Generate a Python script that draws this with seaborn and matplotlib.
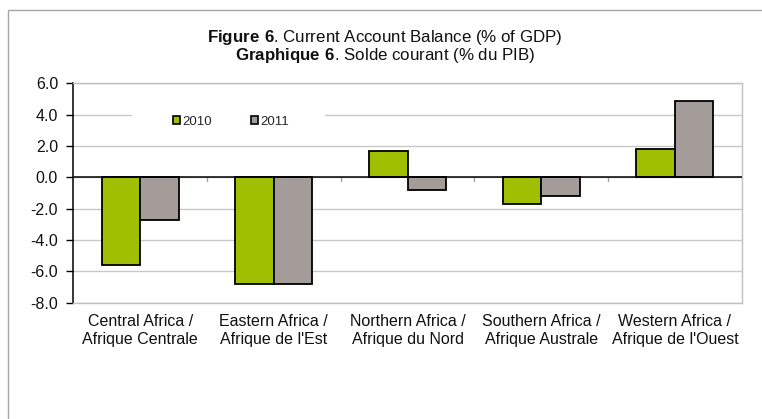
import matplotlib.pyplot as plt
import matplotlib.patches as mpatches
import pandas as pd
import seaborn as sns

regions = [
    "Central Africa /\nAfrique Centrale",
    "Eastern Africa /\nAfrique de l'Est",
    "Northern Africa /\nAfrique du Nord",
    "Southern Africa /\nAfrique Australe",
    "Western Africa /\nAfrique de l'Ouest",
]
values_2010 = [-5.6, -6.8, 1.7, -1.7, 1.8]
values_2011 = [-2.7, -6.8, -0.8, -1.2, 4.9]
years = ["2010", "2011"]
colors = ["#9fbf00", "#a49c98"]
y_ticks = [-8.0, -6.0, -4.0, -2.0, 0.0, 2.0, 4.0, 6.0]

df = pd.DataFrame(
    {
        "region": regions * 2,
        "year": [years[0]] * len(regions) + [years[1]] * len(regions),
        "value": values_2010 + values_2011,
    }
)

sns.set_style("white")
plt.rcParams["font.family"] = ["Liberation Sans", "DejaVu Sans"]
plt.rcParams["mathtext.fontset"] = "custom"
plt.rcParams["mathtext.rm"] = "Liberation Sans"
plt.rcParams["mathtext.bf"] = "Liberation Sans:bold"

fig = plt.figure(figsize=(7.62, 4.19), dpi=100)
fig.patch.set_facecolor("white")
ax = fig.add_axes([0.0962, 0.2776, 0.8772, 0.5236])

# outer chart frame (only left and top edges visible in the crop)
fig.patches.append(
    mpatches.Rectangle(
        (7.5 / 762, -0.2), 1.2, 0.2 + 1 - 9.5 / 419,
        transform=fig.transFigure, fill=False, edgecolor="#a6a6a6", lw=1, clip_on=False,
    )
)

sns.barplot(
    data=df, x="region", y="value", hue="year",
    palette=colors, edgecolor="black", linewidth=1.3,
    width=0.575, gap=0, saturation=1, ax=ax, zorder=3,
)

ax.set_ylim(-8, 6)
ax.set_xlim(-0.5, len(regions) - 0.5)
ax.set_yticks(y_ticks)
ax.set_yticklabels([f"{t:.1f}" for t in y_ticks])
ax.yaxis.grid(True, color="#c8c8c8", lw=1, zorder=0)
ax.set_axisbelow(True)
ax.axhline(0, color="black", lw=1.1, zorder=4)

# small category boundary ticks under the zero line
for b in range(1, len(regions)):
    ax.plot([b - 0.5, b - 0.5], [0, -0.22], color="#a0a0a0", lw=1, zorder=2)

for side in ["top", "right", "bottom"]:
    ax.spines[side].set_color("#c0c0c0")
    ax.spines[side].set_linewidth(1)
ax.spines["left"].set_color("black")
ax.spines["left"].set_linewidth(1.1)

ax.tick_params(axis="y", direction="out", length=5, width=1, color="black",
               labelsize=11.5, pad=6, left=True, labelcolor="#111111")
ax.tick_params(axis="x", length=0, labelsize=11.5, pad=8, labelcolor="#111111")
for lbl in ax.get_xticklabels():
    lbl.set_linespacing(1.3)
ax.set_xlabel("")
ax.set_ylabel("")

# white box behind the legend hides the gridline, as in the original
ax.add_patch(mpatches.Rectangle((0.088, 0.79), 0.289, 0.075, transform=ax.transAxes,
                                facecolor="white", edgecolor="none", zorder=1))
leg = ax.legend(
    loc="center", bbox_to_anchor=(0.236, 0.824), ncol=2, frameon=False,
    fontsize=9.5, handlelength=0.55, handleheight=0.55, handletextpad=0.2,
    columnspacing=2.9, borderpad=0.2,
)
for h in leg.legend_handles:
    h.set_edgecolor("black")
    h.set_linewidth(1.2)

fig.text(0.505, 0.910, r"$\mathbf{Figure\ 6}$. Current Account Balance (% of GDP)",
         ha="center", va="center", fontsize=12.2, color="#111111")
fig.text(0.505, 0.867, r"$\mathbf{Graphique\ 6}$. Solde courant (% du PIB)",
         ha="center", va="center", fontsize=12.2, color="#111111")

plt.savefig("out.png", dpi=100)
plt.close()
